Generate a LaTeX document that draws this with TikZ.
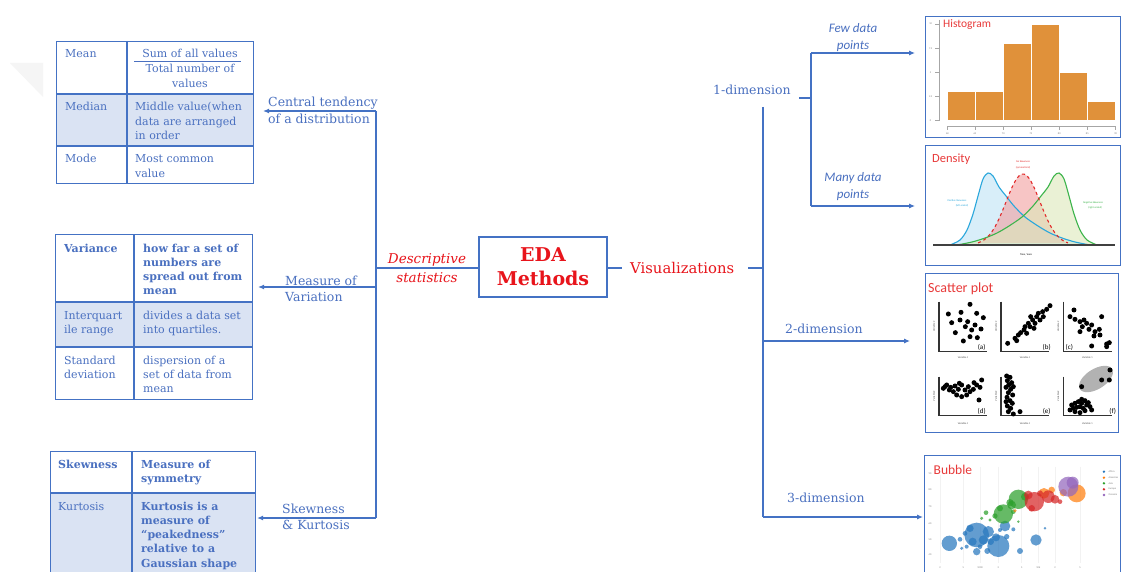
\documentclass[tikz,border=0pt]{standalone}
\usepackage{fontspec}
\setmainfont{DejaVu Serif}
\newfontfamily\calib{Carlito}
\usetikzlibrary{arrows.meta}
\definecolor{lnblue}{HTML}{4472C4}
\definecolor{txblue}{HTML}{4A70C0}
\definecolor{edared}{HTML}{E8141B}
\definecolor{rowshade}{HTML}{DAE3F3}
\definecolor{chartred}{HTML}{E83A3A}
\definecolor{barorange}{HTML}{E0913A}
\definecolor{cvblue}{HTML}{2AA7DC}
\definecolor{cvred}{HTML}{E22A2A}
\definecolor{cvgreen}{HTML}{3CB44B}
\definecolor{bbblue}{HTML}{2878BE}
\definecolor{bbgreen}{HTML}{2CA02C}
\definecolor{bbred}{HTML}{D62728}
\definecolor{bborange}{HTML}{FF7F0E}
\definecolor{bbpurple}{HTML}{9467BD}
% multi-line text blocks whose baseline is the first line
\newcommand\pl[2]{\parbox[t]{#1}{\raggedright #2}}
\newcommand\pc[2]{\parbox[t]{#1}{\centering #2}}
\begin{document}
\begin{tikzpicture}[x=1pt, y=-1pt,
  conn/.style={draw=lnblue, line width=1.1pt},
  arr/.style={conn, -{Latex[length=6pt,width=5pt]}},
  lbl/.style={text=txblue, font=\fontsize{12.5}{16.5}\selectfont, inner sep=0pt, anchor=base west},
  cell/.style={text=txblue, font=\fontsize{11}{14.3}\selectfont, inner sep=0pt, anchor=base west},
  bcell/.style={cell, font=\fontsize{11}{14.3}\selectfont\bfseries},
  gridline/.style={draw=lnblue, line width=1.1pt},
  tablebox/.style={draw=lnblue, line width=1.1pt, inner sep=0pt, anchor=north west},
  chartbox/.style={draw=lnblue, line width=1pt, fill=white, inner sep=0pt, anchor=north west},
  charttitle/.style={text=chartred, inner sep=0pt, anchor=base west},
  tinytxt/.style={font=\calib\fontsize{2.6}{3}\selectfont, inner sep=0pt},
  dimlbl/.style={text=txblue, font=\calib\itshape\fontsize{13}{17}\selectfont, inner sep=0pt, anchor=base},
]
\useasboundingbox (0,0) rectangle (1123,572);
\fill[white] (0,0) rectangle (1123,572);
\fill[black!4] (10,63) -- (43,63) -- (43,97) -- cycle;

%% ---------- left tables ----------
% central tendency
\fill[rowshade] (56,94) rectangle (253,146);
\node[tablebox, minimum width=197pt, minimum height=142pt] (tabA) at (56,41) {};
\draw[gridline] (127,41) -- (127,183);
\draw[gridline] (56,94) -- (253,94) (56,146) -- (253,146);
\node[cell] (meanA) at (65,58) {Mean};
\node[cell, anchor=base] (meanB) at (190,58) {Sum of all values};
\draw[draw=txblue, line width=0.8pt] (134,61.5) -- (241,61.5);
\node[cell, anchor=base] (meanC) at (190,73) {\pc{110pt}{Total number of\\values}};
\node[cell] (medA) at (65,111) {Median};
\node[cell] (medB) at (135,111) {\pl{116pt}{Middle value(when\\data are arranged\\in order}};
\node[cell] (modA) at (65,163) {Mode};
\node[cell] (modB) at (135,163) {\pl{116pt}{Most common\\value}};

% variation
\fill[rowshade] (55,302) rectangle (252,347);
\node[tablebox, minimum width=197pt, minimum height=165pt] (tabB) at (55,234) {};
\draw[gridline] (134,234) -- (134,399);
\draw[gridline] (55,302) -- (252,302) (55,347) -- (252,347);
\node[bcell] (varA) at (64,252) {Variance};
\node[bcell] (varB) at (143,252) {\pl{108pt}{how far a set of\\numbers are\\spread out from\\mean}};
\node[cell] (iqrA) at (64,319) {\pl{68pt}{Interquart\\ile range}};
\node[cell] (iqrB) at (143,319) {\pl{108pt}{divides a data set\\into quartiles.}};
\node[cell] (sdA) at (64,364) {\pl{68pt}{Standard\\deviation}};
\node[cell] (sdB) at (143,364) {\pl{108pt}{dispersion of a\\set of data from\\mean}};

% shape
\fill[rowshade] (50,493) rectangle (255,580);
\node[tablebox, minimum width=205pt, minimum height=129pt] (tabC) at (50,451) {};
\draw[gridline] (132,451) -- (132,580);
\draw[gridline] (50,493) -- (255,493);
\node[bcell] (skA) at (58,468) {Skewness};
\node[bcell] (skB) at (141,468) {\pl{112pt}{Measure of\\symmetry}};
\node[cell] (kuA) at (58,510) {Kurtosis};
\node[bcell] (kuB) at (141,510) {\pl{112pt}{Kurtosis is a\\measure of\\“peakedness”\\relative to a\\Gaussian shape}};

%% ---------- left branch ----------
\coordinate (ltop) at (376,111);
\coordinate (ldesc) at (376,268);
\coordinate (lmid) at (376,287);
\coordinate (lbot) at (376,518);
\draw[conn] (ltop) -- (lbot);
\draw[arr, shorten >=9pt] (ltop) -- (ltop -| tabA.east);
\draw[arr, shorten >=5pt] (lmid) -- (lmid -| tabB.east);
\draw[arr, shorten >=1pt] (lbot) -- (lbot -| tabC.east);
\node[lbl] (ctl) at (268,107) {\pl{120pt}{Central tendency\\of a distribution}};
\node[lbl] (mvl) at (285,285) {\pl{90pt}{Measure of\\Variation}};
\node[lbl] (skl) at (282,513) {\pl{90pt}{Skewness\\\& Kurtosis}};

%% ---------- centre ----------
\node[draw=lnblue, line width=1.1pt, minimum width=128pt, minimum height=60pt, inner sep=0pt,
      text=edared, align=center, font=\bfseries\fontsize{19}{24}\selectfont] (eda) at (543,267) {EDA\\Methods};
\draw[conn] (ldesc) -- (ldesc -| eda.west);
\node[text=edared, font=\itshape\fontsize{13.5}{19}\selectfont, inner sep=0pt, anchor=base] (desc) at (427,263) {\pc{95pt}{Descriptive\\statistics}};
\node[text=edared, font=\fontsize{14.8}{18}\selectfont, inner sep=0pt, anchor=base west] (vis) at (630,273) {Visualizations};
\coordinate (visL) at (622,268);
\coordinate (visR) at (748,268);
\draw[conn] (eda.east |- visL) -- (visL);

%% ---------- right branch ----------
\coordinate (rtop) at (763,107);
\coordinate (rvis) at (763,268);
\coordinate (r2) at (763,341);
\coordinate (rbot) at (763,517);
\draw[conn] (visR) -- (rvis);
\draw[conn] (rtop) -- (rbot);

\node[chartbox, minimum width=195pt, minimum height=121pt] (hist) at (925,16) {};
\node[chartbox, minimum width=195pt, minimum height=120pt] (dens) at (925,145) {};
\node[chartbox, minimum width=193pt, minimum height=159pt] (scat) at (925,273) {};
\node[chartbox, minimum width=196pt, minimum height=125pt] (bub) at (924,455) {};

\node[lbl] (d1) at (713,95) {1-dimension};
\coordinate (d1r) at (799,98);
\coordinate (fork) at (811,98);
\coordinate (ftop) at (811,53);
\coordinate (fbot) at (811,206);
\draw[conn] (d1r) -- (fork);
\draw[conn] (ftop) -- (fbot);
\draw[arr, shorten >=10pt] (ftop) -- (ftop -| hist.west);
\draw[arr, shorten >=10pt] (fbot) -- (fbot -| dens.west);
\node[dimlbl] (few) at (853,33) {\pc{70pt}{Few data\\points}};
\node[dimlbl] (many) at (853,182) {\pc{70pt}{Many data\\points}};
\node[lbl] (d2) at (785,333) {2-dimension};
\draw[arr, shorten >=15pt] (r2) -- (r2 -| scat.west);
\node[lbl] (d3) at (787,502) {3-dimension};
\draw[arr, shorten >=1pt] (rbot) -- (rbot -| bub.west);

%% ---------- histogram ----------
\begin{scope}[shift={(680,0)}, x=0.3333pt, y=-0.3333pt]
  \draw[gray!70, line width=0.5pt] (778,60) -- (778,362);
  \foreach \yy/\tl in {72/10, 145/7.5, 217/5, 290/2.5, 362/0} {
    \draw[gray!70, line width=0.4pt] (766,\yy) -- (778,\yy);
    \node[tinytxt, text=gray] at (752,\yy) {\tl};
  }
  \foreach \xa/\xb/\h in {802/885/3, 885/970/3, 970/1053/8, 1053/1138/10, 1138/1222/5, 1222/1307/2}
    \fill[barorange, draw=white, line width=0.5pt] (\xa,362) rectangle (\xb,{362-29*\h});
  \draw[gray!70, line width=0.5pt] (802,380) -- (1307,380);
  \foreach \xx/\tl in {802/60, 885/65, 970/70, 1053/75, 1138/80, 1222/85, 1307/90} {
    \draw[gray!70, line width=0.4pt] (\xx,380) -- (\xx,390);
    \node[tinytxt, text=gray] at (\xx,400) {\tl};
  }
\end{scope}
\node[charttitle, font=\calib\fontsize{11.5}{12}\selectfont] (histt) at (943,28) {Histogram};

%% ---------- density ----------
\fill[cvblue!30, opacity=0.6] plot[smooth] coordinates {(950,245) (960,240) (967,230) (973,214) (978,196) (983,179) (988,173) (993,176) (999,187) (1006,196) (1014,206) (1025,217) (1038,226) (1050,233) (1062,238) (1075,242) (1090,245)} -- cycle;
\fill[cvred!45, opacity=0.6, domain=978:1068, samples=60] plot (\x, {245-71*exp(-((\x-1023)/17)^2/2)}) -- cycle;
\fill[yellow!45!cvgreen!35, opacity=0.6] plot[smooth] coordinates {(957,245) (972,242) (985,238) (997,233) (1009,226) (1022,217) (1033,206) (1041,196) (1048,187) (1054,176) (1059,173) (1064,179) (1069,196) (1074,214) (1080,230) (1087,240) (1097,245)} -- cycle;
\draw[cvblue, line width=1.1pt] plot[smooth] coordinates {(950,245) (960,240) (967,230) (973,214) (978,196) (983,179) (988,173) (993,176) (999,187) (1006,196) (1014,206) (1025,217) (1038,226) (1050,233) (1062,238) (1075,242) (1090,245)};
\draw[cvgreen, line width=1.1pt] plot[smooth] coordinates {(957,245) (972,242) (985,238) (997,233) (1009,226) (1022,217) (1033,206) (1041,196) (1048,187) (1054,176) (1059,173) (1064,179) (1069,196) (1074,214) (1080,230) (1087,240) (1097,245)};
\draw[cvred, line width=1.1pt, dashed, domain=978:1068, samples=60] plot (\x, {245-71*exp(-((\x-1023)/17)^2/2)});
\draw[black!75, line width=1.4pt] (933,245) -- (1115,245);
\node[charttitle, font=\calib\fontsize{12.5}{13}\selectfont] (denst) at (932,163) {Density};
\node[tinytxt, text=cvblue, anchor=base] (dpos) at (957,201) {Positive Skewness};
\node[tinytxt, text=cvblue, anchor=base] (dpos2) at (962,206) {(left-scaled)};
\node[tinytxt, text=cvred, anchor=base] (dno) at (1023,163) {No Skewness};
\node[tinytxt, text=cvred, anchor=base] (dno2) at (1023,168) {(symmetrical)};
\node[tinytxt, text=cvgreen, anchor=base] (dneg) at (1093,203) {Negative Skewness};
\node[tinytxt, text=cvgreen, anchor=base] (dneg2) at (1095,208) {(right-scaled)};
\node[tinytxt, text=black, anchor=base] (dtime) at (1026,255) {Time, Years};

%% ---------- scatter plots ----------
\node[charttitle, font=\calib\fontsize{14}{15}\selectfont] (scatt) at (928,292) {Scatter plot};
% shaded group in panel (f), major axis rising to the right
\fill[black!30, domain=0:360, samples=50, smooth]
  plot ({1096 + 19*cos(\x)*0.848 + 10*sin(\x)*0.530}, {379 - 19*cos(\x)*0.530 + 10*sin(\x)*0.848}) -- cycle;
\begin{scope}[shift={(900,270)}, x=0.3333pt, y=-0.3333pt]
  \foreach \xo in {117,303,490} {
    \draw[black!80, line width=1.5pt] (\xo,95) -- (\xo,245) -- (\xo+145,245);
    \draw[black!80, line width=1.5pt] (\xo,320) -- (\xo,437) -- (\xo+145,437);
    \node[tinytxt, text=black!70] at (\xo+72,262) {Variable 1};
    \node[tinytxt, text=black!70] at (\xo+72,462) {Variable 1};
    \node[tinytxt, text=black!70, rotate=90] at (\xo-15,170) {Variable 2};
    \node[tinytxt, text=black!70, rotate=90] at (\xo-15,378) {Variable 2};
  }
  \foreach \p in {(210,103),(145,132),(183,127),(230,130),(250,143),(155,158),(180,150),(203,155),(225,165),(196,170),(166,188),(215,180),(243,177),(190,213),(210,200),(232,203),
                  (323,220),(345,205),(355,195),(350,212),(372,180),(380,190),(362,188),(390,170),(385,160),(402,175),(398,150),(410,140),(420,150),(415,130),(428,125),(440,118),(405,160),(392,140),(430,140),(450,107),(375,170),
                  (522,120),(510,140),(525,148),(540,155),(552,150),(560,160),(547,170),(575,165),(567,178),(585,185),(598,178),(605,140),(582,198),(540,185),(600,195),(620,222),(628,218),(620,230),(575,228),
                  (130,355),(140,345),(152,352),(165,348),(175,358),(160,365),(185,345),(195,360),(205,350),(210,365),(220,358),(230,345),(240,352),(245,330),(237,390),(185,380),(170,375),(200,375),(148,360),(222,338),(135,350),(178,340),
                  (320,318),(330,322),(322,332),(335,338),(326,345),(318,352),(332,358),(325,368),(338,375),(321,382),(330,392),(337,400),(322,408),(332,415),(325,425),(340,432),(360,425),(318,395),(340,350),
                  (545,350),(605,330),(630,300),(628,330),
                  (515,405),(525,400),(535,395),(545,400),(555,392),(520,415),(530,412),(540,410),(550,415),(560,405),(570,410),(525,425),(540,428),(555,422),(575,420),(510,420),(545,388),(565,398)}
    \fill[black] \p circle (7.5);
  \foreach \xx/\yy/\tl in {245/232/a, 440/232/b, 508/232/c, 245/425/d, 440/425/e, 638/425/f}
    \node[font=\calib\fontsize{7}{8}\selectfont, inner sep=0pt] at (\xx,\yy) {(\tl)};
\end{scope}

%% ---------- bubble chart ----------
\begin{scope}[shift={(900,440)}, x=0.3333pt, y=-0.3333pt]
  \foreach \xx in {120,190,240,295,365,415,465,540}
    \draw[black!5, line width=0.4pt] (\xx,80) -- (\xx,370);
  \foreach \yy/\tl in {100/90, 150/80, 200/70, 250/60, 298/50, 345/40}
    \node[tinytxt, text=gray] at (90,\yy) {\tl};
  \foreach \xx/\tl in {120/2, 190/5, 240/1000, 295/2, 365/5, 415/10k, 465/2, 540/5}
    \node[tinytxt, text=gray] at (\xx,382) {\tl};
  \foreach \cx/\cy/\r in {148/310/23, 230/285/37, 295/318/33, 265/275/17, 210/265/11, 315/258/16, 408/300/17, 360/333/9, 180/298/7, 230/335/11, 262/333/9, 250/300/14, 288/292/12, 340/268/6, 200/320/6, 435/265/4, 195/280/7, 218/305/12, 272/305/10, 320/290/8, 185/325/5, 240/320/7, 300/270/6}
    \fill[bbblue, opacity=0.72] (\cx,\cy) circle (\r);
  \foreach \cx/\cy/\r in {310/222/29, 355/178/29, 330/188/11, 300/205/9, 258/218/7, 245/235/5, 270/240/5, 355/245/4, 335/195/13, 375/170/12, 285/228/8, 340/215/7}
    \fill[bbgreen, opacity=0.72] (\cx,\cy) circle (\r);
  \foreach \cx/\cy/\r in {530/160/27, 432/160/16, 490/158/11, 345/212/5, 455/150/10}
    \fill[bborange, opacity=0.72] (\cx,\cy) circle (\r);
  \foreach \cx/\cy/\r in {403/185/29, 445/170/19, 465/178/13, 385/165/13, 480/185/7, 420/160/9, 395/205/10}
    \fill[bbred, opacity=0.72] (\cx,\cy) circle (\r);
  \foreach \cx/\cy/\r in {505/140/30, 518/128/18}
    \fill[bbpurple, opacity=0.72] (\cx,\cy) circle (\r);
  \foreach \yy/\cc/\tl in {95/bbblue/Africa, 113/bborange/Americas, 130/bbgreen/Asia, 148/bbred/Europe, 165/bbpurple/Oceania} {
    \fill[\cc] (612,\yy) circle (4);
    \node[tinytxt, text=gray, anchor=west] at (625,\yy) {\tl};
  }
\end{scope}
\node[charttitle, font=\calib\fontsize{13.5}{14}\selectfont, fill=white, inner sep=0.5pt] (bubt) at (933,474) {Bubble};
\end{tikzpicture}
\end{document}
